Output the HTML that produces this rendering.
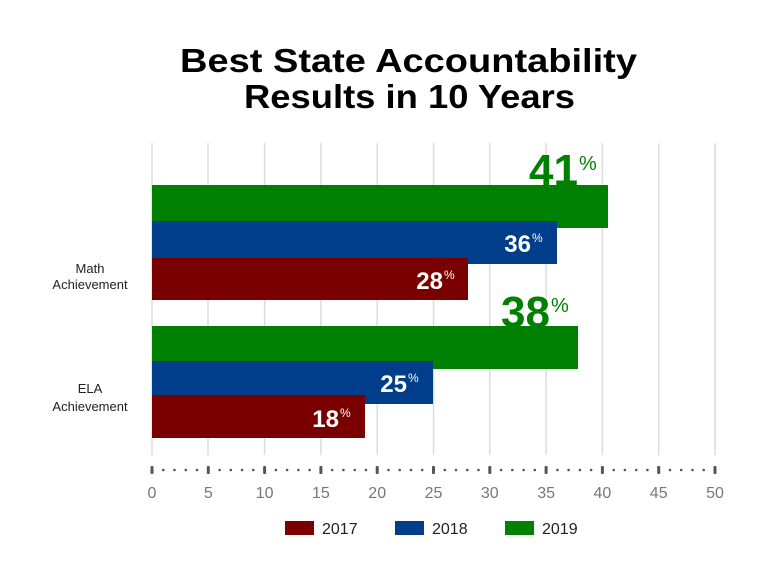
<!DOCTYPE html>
<html><head><style>
body{margin:0;background:#fff;}
svg{display:block;font-family:"Liberation Sans",sans-serif;}
</style></head><body>
<svg width="768" height="580" xmlns="http://www.w3.org/2000/svg">
<text x="180" y="72" textLength="457" lengthAdjust="spacingAndGlyphs" font-size="33" font-weight="bold" fill="#000">Best State Accountability</text>
<text x="244" y="108" textLength="331" lengthAdjust="spacingAndGlyphs" font-size="33" font-weight="bold" fill="#000">Results in 10 Years</text>
<g stroke="#dcdcdc" stroke-width="1.5">
<line x1="152" y1="143" x2="152" y2="455"/><line x1="208" y1="143" x2="208" y2="455"/><line x1="264.6" y1="143" x2="264.6" y2="455"/><line x1="320.9" y1="143" x2="320.9" y2="455"/><line x1="377.2" y1="143" x2="377.2" y2="455"/><line x1="433.5" y1="143" x2="433.5" y2="455"/><line x1="489.8" y1="143" x2="489.8" y2="455"/><line x1="546.1" y1="143" x2="546.1" y2="455"/><line x1="602.4" y1="143" x2="602.4" y2="455"/><line x1="658.7" y1="143" x2="658.7" y2="455"/><line x1="715" y1="143" x2="715" y2="455"/>
</g>
<rect x="152" y="185" width="456" height="43" fill="#008000"/>
<rect x="152" y="221" width="405" height="43" fill="#003d8a"/>
<rect x="152" y="258" width="316" height="42" fill="#7a0000"/>
<rect x="152" y="326" width="426" height="43" fill="#008000"/>
<rect x="152" y="361" width="281" height="43" fill="#003d8a"/>
<rect x="152" y="395" width="213" height="43" fill="#7a0000"/>
<g font-weight="bold">
<text x="578" y="185" text-anchor="end" font-size="44" fill="#008000">41</text><text x="579" y="170" font-size="20" font-weight="normal" fill="#008000">%</text>
<text x="550" y="327" text-anchor="end" font-size="44" fill="#008000">38</text><text x="551" y="312" font-size="20" font-weight="normal" fill="#008000">%</text>
<text x="531" y="252" text-anchor="end" font-size="24" fill="#fff">36</text><text x="532" y="242" font-size="12" font-weight="normal" fill="#fff">%</text>
<text x="443" y="289" text-anchor="end" font-size="24" fill="#fff">28</text><text x="444" y="279" font-size="12" font-weight="normal" fill="#fff">%</text>
<text x="407" y="392" text-anchor="end" font-size="24" fill="#fff">25</text><text x="408" y="382" font-size="12" font-weight="normal" fill="#fff">%</text>
<text x="339" y="427" text-anchor="end" font-size="24" fill="#fff">18</text><text x="340" y="417" font-size="12" font-weight="normal" fill="#fff">%</text>
</g>
<g font-size="13" fill="#222" text-anchor="middle">
<text x="90" y="273">Math</text><text x="90" y="289">Achievement</text>
<text x="90" y="393">ELA</text><text x="90" y="411">Achievement</text>
</g>
<g fill="#555">
<rect x="150.5" y="466" width="3" height="8" rx="1"/><rect x="206.8" y="466" width="3" height="8" rx="1"/><rect x="263.1" y="466" width="3" height="8" rx="1"/><rect x="319.4" y="466" width="3" height="8" rx="1"/><rect x="375.7" y="466" width="3" height="8" rx="1"/><rect x="432" y="466" width="3" height="8" rx="1"/><rect x="488.3" y="466" width="3" height="8" rx="1"/><rect x="544.6" y="466" width="3" height="8" rx="1"/><rect x="600.9" y="466" width="3" height="8" rx="1"/><rect x="657.2" y="466" width="3" height="8" rx="1"/><rect x="713.5" y="466" width="3" height="8" rx="1"/>
</g>
<g fill="#555">
<circle cx="163.3" cy="470" r="1.3"/><circle cx="174.5" cy="470" r="1.3"/><circle cx="185.8" cy="470" r="1.3"/><circle cx="197" cy="470" r="1.3"/>
<circle cx="219.6" cy="470" r="1.3"/><circle cx="230.8" cy="470" r="1.3"/><circle cx="242.1" cy="470" r="1.3"/><circle cx="253.3" cy="470" r="1.3"/>
<circle cx="275.9" cy="470" r="1.3"/><circle cx="287.1" cy="470" r="1.3"/><circle cx="298.4" cy="470" r="1.3"/><circle cx="309.6" cy="470" r="1.3"/>
<circle cx="332.2" cy="470" r="1.3"/><circle cx="343.4" cy="470" r="1.3"/><circle cx="354.7" cy="470" r="1.3"/><circle cx="365.9" cy="470" r="1.3"/>
<circle cx="388.5" cy="470" r="1.3"/><circle cx="399.7" cy="470" r="1.3"/><circle cx="411" cy="470" r="1.3"/><circle cx="422.2" cy="470" r="1.3"/>
<circle cx="444.8" cy="470" r="1.3"/><circle cx="456" cy="470" r="1.3"/><circle cx="467.3" cy="470" r="1.3"/><circle cx="478.5" cy="470" r="1.3"/>
<circle cx="501.1" cy="470" r="1.3"/><circle cx="512.3" cy="470" r="1.3"/><circle cx="523.6" cy="470" r="1.3"/><circle cx="534.8" cy="470" r="1.3"/>
<circle cx="557.4" cy="470" r="1.3"/><circle cx="568.6" cy="470" r="1.3"/><circle cx="579.9" cy="470" r="1.3"/><circle cx="591.1" cy="470" r="1.3"/>
<circle cx="613.7" cy="470" r="1.3"/><circle cx="624.9" cy="470" r="1.3"/><circle cx="636.2" cy="470" r="1.3"/><circle cx="647.4" cy="470" r="1.3"/>
<circle cx="670" cy="470" r="1.3"/><circle cx="681.2" cy="470" r="1.3"/><circle cx="692.5" cy="470" r="1.3"/><circle cx="703.7" cy="470" r="1.3"/>
</g>
<g font-size="16" fill="#777" text-anchor="middle">
<text x="152" y="498">0</text><text x="208.3" y="498">5</text><text x="264.6" y="498">10</text><text x="320.9" y="498">15</text><text x="377.2" y="498">20</text><text x="433.5" y="498">25</text><text x="489.8" y="498">30</text><text x="546.1" y="498">35</text><text x="602.4" y="498">40</text><text x="658.7" y="498">45</text><text x="715" y="498">50</text>
</g>
<rect x="285" y="521" width="29" height="14" fill="#7a0000"/><text x="322" y="534" font-size="16" fill="#222">2017</text>
<rect x="395" y="521" width="29" height="14" fill="#003d8a"/><text x="432" y="534" font-size="16" fill="#222">2018</text>
<rect x="505" y="521" width="29" height="14" fill="#008000"/><text x="542" y="534" font-size="16" fill="#222">2019</text>
</svg>
</body></html>
